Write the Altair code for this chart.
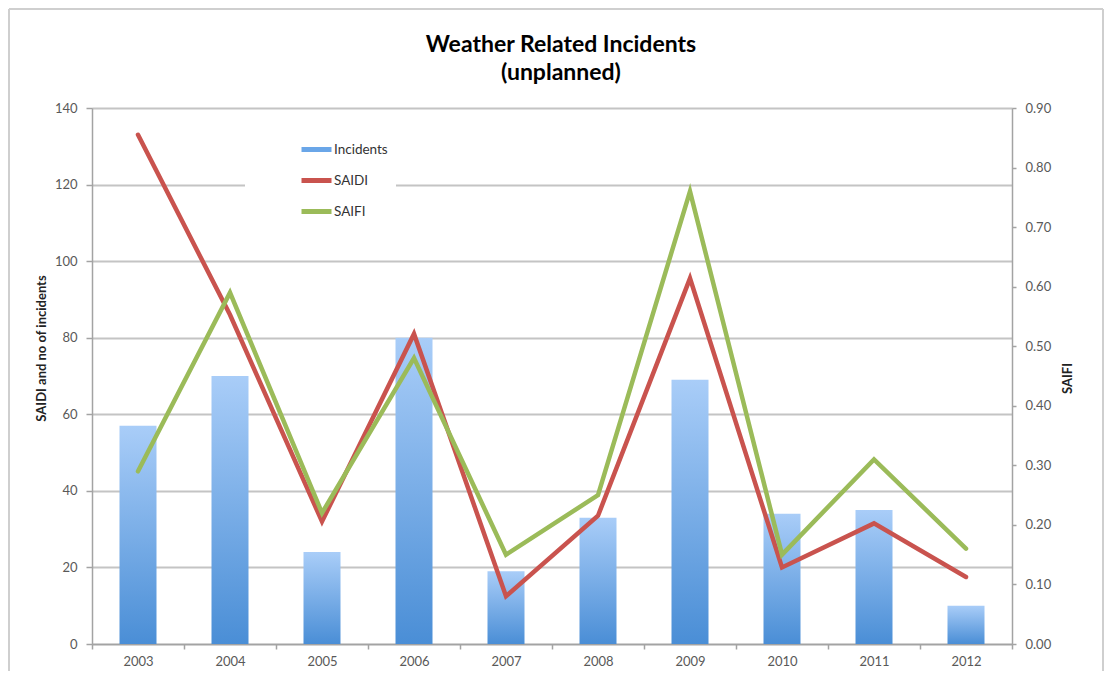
import altair as alt
import pandas as pd

# ---- data ----
years = ["2003", "2004", "2005", "2006", "2007", "2008", "2009", "2010", "2011", "2012"]
incidents = [57, 70, 24, 80, 19, 33, 69, 34, 35, 10]
saidi = [133, 86, 32, 81, 12.5, 33.5, 95.5, 20, 31.5, 17.5]
saifi = [0.29, 0.59, 0.22, 0.48, 0.15, 0.25, 0.76, 0.15, 0.31, 0.16]

series_names = ["Incidents", "SAIDI", "SAIFI"]
series_colors = ["#6aa6e8", "#c9534e", "#9bbb59"]
left_ticks = [0, 20, 40, 60, 80, 100, 120, 140]
right_ticks = [0.0, 0.1, 0.2, 0.3, 0.4, 0.5, 0.6, 0.7, 0.8, 0.9]

df = pd.DataFrame({"year": years, "incidents": incidents, "saidi": saidi, "saifi": saifi})

FONT = "Lato"
AXIS_GRAY = "#a3a3a3"
LABEL_GRAY = "#595959"
LABEL_SIZE = 13

x_enc = alt.X(
    "year:N",
    sort=years,
    scale=alt.Scale(paddingInner=0, paddingOuter=0),
    axis=alt.Axis(
        title=None, labelAngle=0, tickBand="extent", grid=False,
        domainColor=AXIS_GRAY, domainWidth=1.5, tickColor=AXIS_GRAY, tickWidth=1.5, tickSize=5,
        labelFont=FONT, labelFontSize=LABEL_SIZE, labelColor=LABEL_GRAY, labelPadding=6,
    ),
)

left_axis = alt.Axis(
    values=left_ticks, grid=True, gridColor="#c4c4c4", gridWidth=2,
    domainColor=AXIS_GRAY, domainWidth=1.5, tickColor=AXIS_GRAY, tickWidth=1.5, tickSize=6,
    labelFont=FONT, labelFontSize=LABEL_SIZE, labelColor=LABEL_GRAY, labelPadding=9,
    title="SAIDI and no of incidents", titleFont=FONT, titleFontSize=13, titleFontWeight="bold",
    titleColor="#222222", titleX=-51, titleY=240, titleAngle=270, titleAlign="center",
    titleBaseline="middle",
)

right_axis = alt.Axis(
    orient="right", values=right_ticks, format=".2f", grid=False,
    domainColor=AXIS_GRAY, domainWidth=1.5, tickColor=AXIS_GRAY, tickWidth=1.5, tickSize=4,
    labelFont=FONT, labelFontSize=LABEL_SIZE, labelColor=LABEL_GRAY, labelPadding=9,
    title="SAIFI", titleFont=FONT, titleFontSize=13, titleFontWeight="bold",
    titleColor="#222222", titleX=55, titleY=270, titleAngle=270, titleAlign="center",
    titleBaseline="middle",
)

color_enc = alt.Color(
    "series:N",
    scale=alt.Scale(domain=series_names, range=series_colors),
    legend=alt.Legend(
        title=None, orient="none", legendX=153, legendY=16, direction="vertical",
        symbolType="stroke", symbolStrokeWidth=5, symbolSize=900,
        labelFont=FONT, labelFontSize=13.5, labelColor="#333333",
        fillColor="white", padding=8, symbolOffset=46, labelOffset=0, rowPadding=3,
    ),
)

base = alt.Chart(df)

bar_gradient = alt.Gradient(
    gradient="linear",
    stops=[alt.GradientStop(color="#a9cdf8", offset=0), alt.GradientStop(color="#4a8ed6", offset=1)],
    x1=1, x2=1, y1=0, y2=1,
)

bars = base.mark_bar(size=37, color=bar_gradient).encode(
    x=x_enc,
    y=alt.Y("incidents:Q", scale=alt.Scale(domain=[0, 140]), axis=left_axis),
)

saidi_line = base.transform_calculate(series="'SAIDI'").mark_line(
    strokeWidth=4.5, strokeCap="round"
).encode(
    x=x_enc,
    y=alt.Y("saidi:Q", scale=alt.Scale(domain=[0, 140]), axis=left_axis),
    color=color_enc,
)

saifi_line = base.transform_calculate(series="'SAIFI'").mark_line(
    strokeWidth=4.5, strokeCap="round"
).encode(
    x=x_enc,
    y=alt.Y("saifi:Q", scale=alt.Scale(domain=[0, 0.9]), axis=right_axis),
    color=color_enc,
)

frame_df = pd.DataFrame({"k": [0]})
frame_left = alt.Chart(frame_df).mark_rule(color="#cfcfcf", strokeWidth=2).encode(
    x=alt.value(-83), y=alt.value(-99), y2=alt.value(600)
)
frame_top = alt.Chart(frame_df).mark_rule(color="#cfcfcf", strokeWidth=2).encode(
    x=alt.value(-83), x2=alt.value(1011), y=alt.value(-99)
)
frame_right = alt.Chart(frame_df).mark_rule(color="#cfcfcf", strokeWidth=2).encode(
    x=alt.value(1011), y=alt.value(-99), y2=alt.value(600)
)

chart = (
    alt.layer(
        alt.layer(bars, saidi_line),
        saifi_line,
        frame_left, frame_top, frame_right,
    )
    .resolve_scale(y="independent")
    .properties(
        width=920,
        height=536,
        padding={"left": 84, "top": 100, "right": 93, "bottom": 27},
        autosize=alt.AutoSizeParams(type="none"),
        title=alt.TitleParams(
            text=["Weather Related Incidents", "(unplanned)"],
            font=FONT, fontSize=23, fontWeight="bold", color="black",
            anchor="middle", dx=9, offset=0, dy=77, lineHeight=28,
        ),
    )
    .configure_view(stroke=None)
    .configure(background="white")
)

chart.save("out.html", embed_options={"renderer": "svg", "actions": False})
